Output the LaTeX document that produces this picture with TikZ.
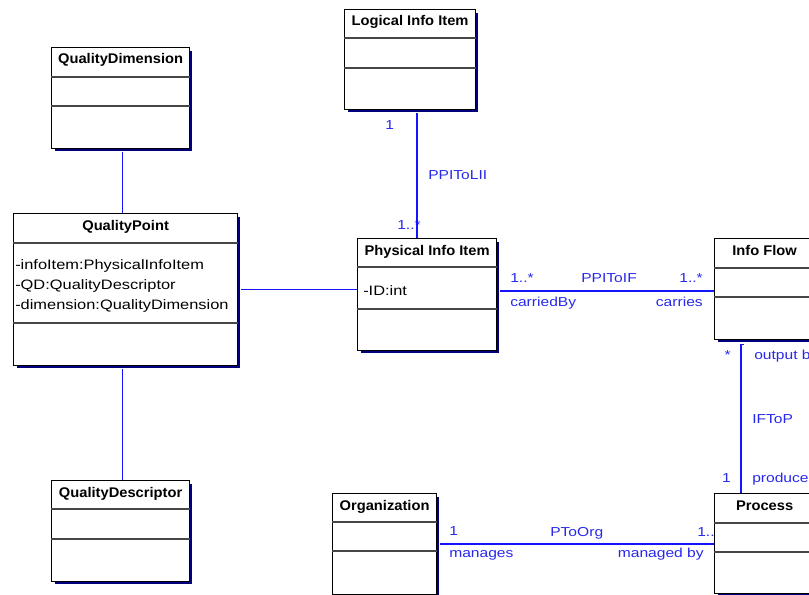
\documentclass[tikz,border=0pt]{standalone}
\usepackage{fontspec}
\setmainfont{Liberation Sans}
\newfontfamily\umlreg{Liberation Sans}[FakeStretch=1.2]
\newfontfamily\umlbold{Liberation Sans}[FakeStretch=1.05]
\usetikzlibrary{calc}
\definecolor{lineblue}{RGB}{20,20,255}
\definecolor{textblue}{RGB}{40,40,235}
\definecolor{shadownavy}{RGB}{0,0,125}
\definecolor{divgray}{RGB}{70,70,70}
\tikzset{
  cls/.style={draw=black, fill=white, line width=0.9pt, inner sep=0pt, anchor=north west},
  ttl/.style={font=\umlbold\bfseries\fontsize{10.5}{12}\selectfont, anchor=base, inner sep=0pt},
  attr/.style={font=\umlreg\fontsize{10.25}{12}\selectfont, anchor=base west, inner sep=0pt},
  lbl/.style={font=\umlreg\fontsize{9.75}{12}\selectfont, text=textblue, inner sep=0pt},
  assoc/.style={draw=lineblue, line width=0.95pt},
  divline/.style={draw=divgray, line width=0.8pt},
}
\newcommand\umlclass[8]{%
  \fill[shadownavy] (#2+4,#3+4) rectangle (#2+#4+3,#3+#5+3);
  \node[cls, minimum width=#4*0.75pt, minimum height=#5*0.75pt] (#1) at (#2,#3) {};
  \draw[divline] ($(#1.north west)+(0,#6)$) -- ($(#1.north east)+(0,#6)$);
  \draw[divline] ($(#1.north west)+(0,#7)$) -- ($(#1.north east)+(0,#7)$);
  \node[ttl] (#1-title) at ($(#1.north)+(0,17)$) {#8};
}
\begin{document}
\begin{tikzpicture}[x=0.75pt,y=-0.75pt]
\useasboundingbox (0,0) rectangle (809,595);
\clip (0,0) rectangle (809,595);
% association labels
\node[lbl, anchor=base west] (l1) at (385,130) {1};
\node[lbl, anchor=base west] (l2) at (428,180) {PPIToLII};
\node[lbl, anchor=base east] (l3) at (421,229) {1..*};
\node[lbl, anchor=base west] (l4) at (510,282) {1..*};
\node[lbl, anchor=base west] (l5) at (510,306) {carriedBy};
\node[lbl, anchor=base west] (l6) at (581,282) {PPIToIF};
\node[lbl, anchor=base east] (l7) at (703,282) {1..*};
\node[lbl, anchor=base east] (l8) at (703,306) {carries};
\node[lbl, anchor=base east] (l9) at (731,359) {*};
\node[lbl, anchor=base west] (l10) at (754,359) {output b};
\node[lbl, anchor=base west] (l11) at (752,423) {IFToP};
\node[lbl, anchor=base east] (l12) at (731,482) {1};
\node[lbl, anchor=base west] (l13) at (752,482) {produce};
\node[lbl, anchor=base west] (l14) at (449,535) {1};
\node[lbl, anchor=base west] (l15) at (550,536) {PToOrg};
\node[lbl, anchor=base west] (l16) at (697,536) {1..*};
\node[lbl, anchor=base west] (l17) at (449,557) {manages};
\node[lbl, anchor=base east] (l18) at (704,557) {managed by};
% classes
\umlclass{qdim}{51}{47}{138}{101}{30}{59}{QualityDimension}
\umlclass{qp}{13}{213}{224}{152}{30}{110}{QualityPoint}
\umlclass{qdesc}{51}{480}{138}{101}{29}{59}{QualityDescriptor}
\umlclass{lii}{344}{9}{131}{100}{29}{59}{Logical Info Item}
\umlclass{pii}{357}{238}{139}{112}{29}{71}{Physical Info Item}
\umlclass{if}{714}{238}{100}{101}{30}{59}{Info Flow}
\umlclass{proc}{714}{493}{100}{100}{30}{59}{Process}
\umlclass{org}{332}{493}{104}{101}{29}{58}{Organization}
% attributes
\node[attr] (qp-a1) at (15,269) {-infoItem:PhysicalInfoItem};
\node[attr] (qp-a2) at (15,289) {-QD:QualityDescriptor};
\node[attr] (qp-a3) at (15,309) {-dimension:QualityDimension};
\node[attr] (pii-a1) at (363,295) {-ID:int};
% connectors
\coordinate (c1) at ($(qdim.south)+(2,3)$);
\draw[assoc] (c1) -- (c1 |- qp.north);
\coordinate (c2) at ($(c1 |- qp.south)+(0,3)$);
\draw[assoc] (c2) -- (c2 |- qdesc.north);
\coordinate (c3) at ($(qp.east)+(3,0)$);
\draw[assoc] (c3) -- (c3 -| pii.west);
\coordinate (c4) at ($(lii.south west)+(73,3)$);
\draw[assoc] (c4) -- (c4 |- pii.north);
\coordinate (c5) at ($(pii.north east)+(3,53)$);
\draw[assoc] (c5) -- (c5 -| if.west);
\coordinate (c6) at ($(if.south west)+(27,4)$);
\draw[assoc] ($(c6)+(3,0)$) -- (c6) -- (c6 |- proc.north);
\coordinate (c7) at ($(org.east)+(3,0)$);
\draw[assoc] (c7) -- (c7 -| proc.west);
\end{tikzpicture}
\end{document}
